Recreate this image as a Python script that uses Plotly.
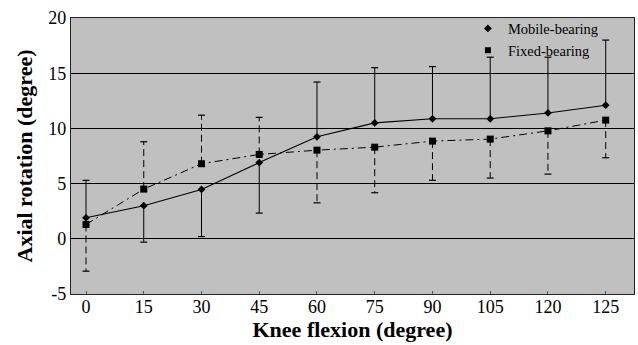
import plotly.graph_objects as go

flexion = ["0", "15", "30", "45", "60", "75", "90", "105", "120", "125"]
mobile = [1.9, 3.0, 4.47, 6.9, 9.24, 10.5, 10.87, 10.87, 11.4, 12.1]
mobile_sd = [3.4, 3.3, 4.27, 4.57, 4.96, 5.0, 4.73, 5.58, 5.05, 5.9]
mobile_side = [1, -1, -1, -1, 1, 1, 1, 1, 1, 1]
fixed = [1.3, 4.5, 6.8, 7.64, 8.03, 8.3, 8.85, 9.03, 9.78, 10.75]
fixed_sd = [4.23, 4.29, 4.4, 3.36, 4.77, 4.13, 3.55, 3.53, 3.92, 3.41]
fixed_side = [-1, 1, 1, 1, -1, -1, -1, -1, -1, -1]
y_ticks = [-5, 0, 5, 10, 15, 20]
y_tick_labels = ["-5", "0", "5", "10", "15", "20"]

FONT = "Liberation Serif"
xi = list(range(len(flexion)))


def bar_paths(vals, sds, sides):
    xs, ys, cx, cy = [], [], [], []
    for i, (v, s, d) in enumerate(zip(vals, sds, sides)):
        end = v + d * s
        xs += [i, i, None]
        ys += [v, end, None]
        cx.append(i)
        cy.append(end)
    return xs, ys, cx, cy


fig = go.Figure()

# error bars
for vals, sds, sides, dash in [(mobile, mobile_sd, mobile_side, "solid"),
                               (fixed, fixed_sd, fixed_side, "7px,4px")]:
    xs, ys, cx, cy = bar_paths(vals, sds, sides)
    fig.add_trace(go.Scatter(x=xs, y=ys, mode="lines", showlegend=False,
                             line=dict(color="black", width=1, dash=dash),
                             hoverinfo="skip"))
    fig.add_trace(go.Scatter(x=cx, y=cy, mode="markers", showlegend=False,
                             marker=dict(symbol="line-ew", size=5,
                                         line=dict(color="black", width=1.2)),
                             hoverinfo="skip"))

fig.add_trace(go.Scatter(x=xi, y=fixed, mode="lines", showlegend=False,
                         line=dict(color="black", width=1, dash="8px,4px,2px,4px")))
fig.add_trace(go.Scatter(x=xi, y=mobile, mode="lines", showlegend=False,
                         line=dict(color="black", width=1.1)))
fig.add_trace(go.Scatter(x=xi, y=fixed, mode="markers", name="Fixed-bearing",
                         showlegend=False,
                         marker=dict(symbol="square", size=7, color="black")))
fig.add_trace(go.Scatter(x=xi, y=mobile, mode="markers", name="Mobile-bearing",
                         showlegend=False,
                         marker=dict(symbol="diamond", size=6, color="black")))

# legend entries (markers only)
fig.add_trace(go.Scatter(x=[None], y=[None], mode="markers", name="Mobile-bearing",
                         marker=dict(symbol="diamond", size=6, color="black")))
fig.add_trace(go.Scatter(x=[None], y=[None], mode="markers", name="Fixed-bearing",
                         marker=dict(symbol="square", size=6, color="black")))

fig.update_layout(
    width=638, height=345,
    margin=dict(l=71, r=4, t=18, b=51),
    paper_bgcolor="white",
    plot_bgcolor="#c0c0c0",
    font=dict(family=FONT, color="black", size=17),
    legend=dict(x=0.705, y=1.02, xanchor="left", yanchor="top",
                bgcolor="rgba(0,0,0,0)", borderwidth=0,
                font=dict(family=FONT, size=14.5, color="black"),
                itemwidth=30, tracegroupgap=0),
    xaxis=dict(
        range=[-0.26, 9.49],
        tickvals=xi, ticktext=flexion,
        showgrid=False, zeroline=False,
        showline=True, linecolor="#222", linewidth=1.2, mirror=True,
        ticks="inside", ticklen=3, tickcolor="#555",
        ticklabelstandoff=-4,
        tickfont=dict(family=FONT, size=18),
        title=dict(text="<b>Knee flexion (degree)</b>",
                   font=dict(family=FONT, size=22), standoff=2),
    ),
    yaxis=dict(
        range=[-5, 20],
        tickvals=y_ticks, ticktext=y_tick_labels,
        showgrid=True, gridcolor="black", gridwidth=1,
        zeroline=False,
        showline=True, linecolor="#222", linewidth=1.2, mirror=True,
        ticks="", tickfont=dict(family=FONT, size=18),
        title=dict(text="<b>Axial rotation (degree)</b>",
                   font=dict(family=FONT, size=22), standoff=9),
    ),
)

fig.write_html("out.html",
               config={"displayModeBar": False},
               post_script="document.body.style.margin='0';document.body.style.overflow='hidden';")
